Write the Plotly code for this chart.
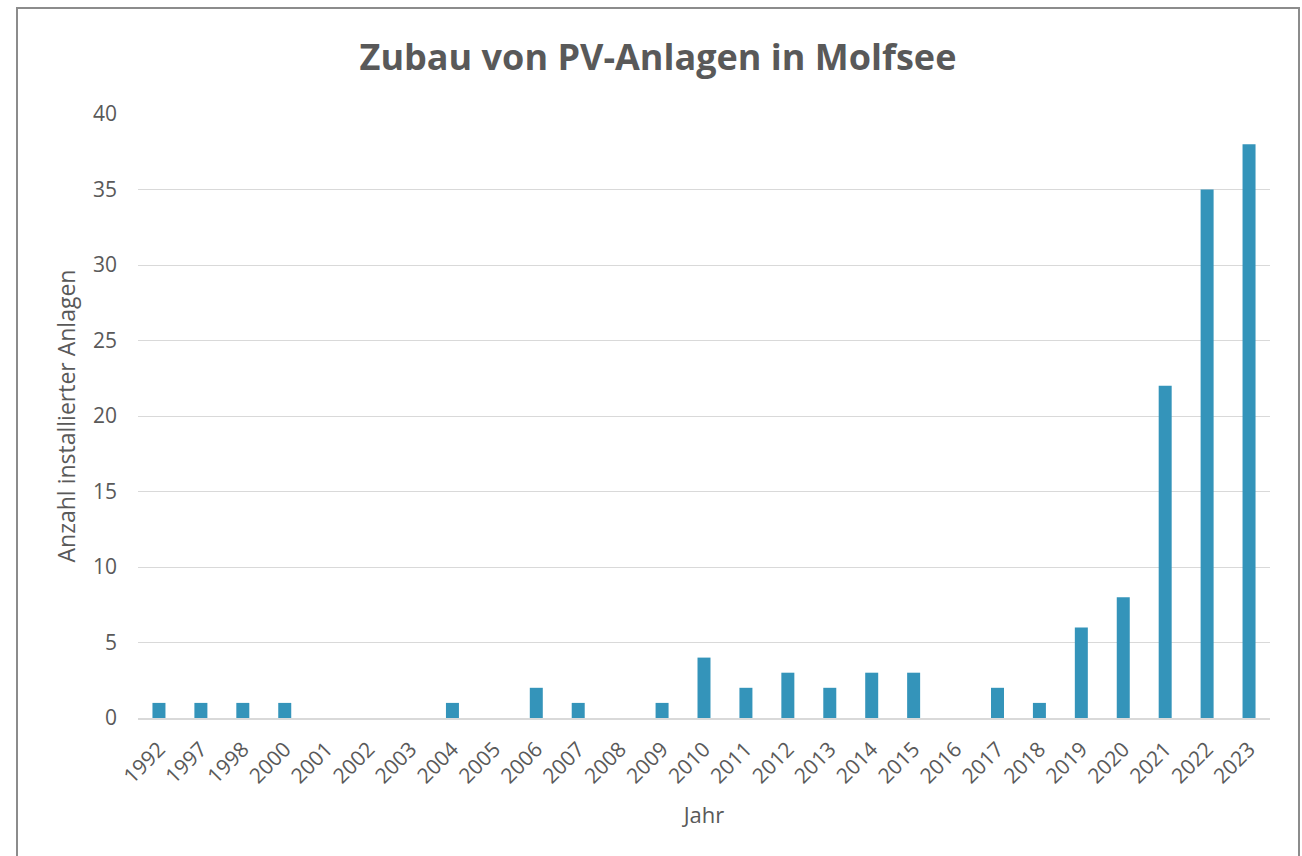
import plotly.graph_objects as go

years = ["1992", "1997", "1998", "2000", "2001", "2002", "2003", "2004", "2005", "2006",
         "2007", "2008", "2009", "2010", "2011", "2012", "2013", "2014", "2015", "2016",
         "2017", "2018", "2019", "2020", "2021", "2022", "2023"]
anlagen = [1, 1, 1, 1, 0, 0, 0, 1, 0, 2,
           1, 0, 1, 4, 2, 3, 2, 3, 3, 0,
           2, 1, 6, 8, 22, 35, 38]
y_ticks = [0, 5, 10, 15, 20, 25, 30, 35, 40]

W, H = 1302, 856
# plot area in reference pixel coords
PX0, PX1, PY0, PY1 = 138, 1270, 114, 718
L, T = PX0, PY0
R = W - PX1
B = H - PY1
pw, ph = PX1 - PX0, PY1 - PY0

font_fam = "Open Sans, Liberation Sans, sans-serif"
txt = "#595959"

fig = go.Figure(go.Bar(
    x=years, y=anlagen,
    marker=dict(color="#3494BA", line=dict(width=0)),
    width=0.31,
))

def px_x(p):
    return (p - PX0) / pw

def px_y(p):
    return (PY1 - p) / ph

fig.update_layout(
    width=W, height=H,
    margin=dict(l=L, r=R, t=T, b=B, autoexpand=False),
    paper_bgcolor="white", plot_bgcolor="white",
    font=dict(family=font_fam, color=txt, size=21),
    showlegend=False,
    title=dict(text="<b>Zubau von PV-Anlagen in Molfsee</b>",
               x=658 / W, xanchor="center", y=1 - 57 / H, yanchor="middle",
               xref="container", yref="container",
               font=dict(size=36, color=txt, family=font_fam)),
    xaxis=dict(
        type="category", tickangle=-45, showgrid=False,
        showline=True, linecolor="#d9d9d9", linewidth=1.5,
        ticks="", ticklabelstandoff=9,
        tickfont=dict(size=21, color=txt),
        title=dict(text="Jahr", font=dict(size=22, color=txt), standoff=20),
    ),
    yaxis=dict(
        range=[0, 40], tickvals=y_ticks,
        showgrid=True, gridcolor="#d9d9d9", gridwidth=1.3,
        zeroline=False, showline=False, ticks="",
        ticklabelstandoff=20,
        tickfont=dict(size=21, color=txt),
        title=dict(text="Anzahl installierter Anlagen", font=dict(size=23, color=txt), standoff=10),
    ),
    shapes=[dict(type="rect", xref="paper", yref="paper",
                 x0=px_x(17), x1=px_x(1299), y0=px_y(870), y1=px_y(8),
                 line=dict(color="#8c8c8c", width=2), fillcolor="rgba(0,0,0,0)",
                 layer="below")],
)

fig.write_html(
    "out.html",
    config={"displayModeBar": False},
    post_script="document.body.style.margin='0';document.body.style.overflow='hidden';",
)
